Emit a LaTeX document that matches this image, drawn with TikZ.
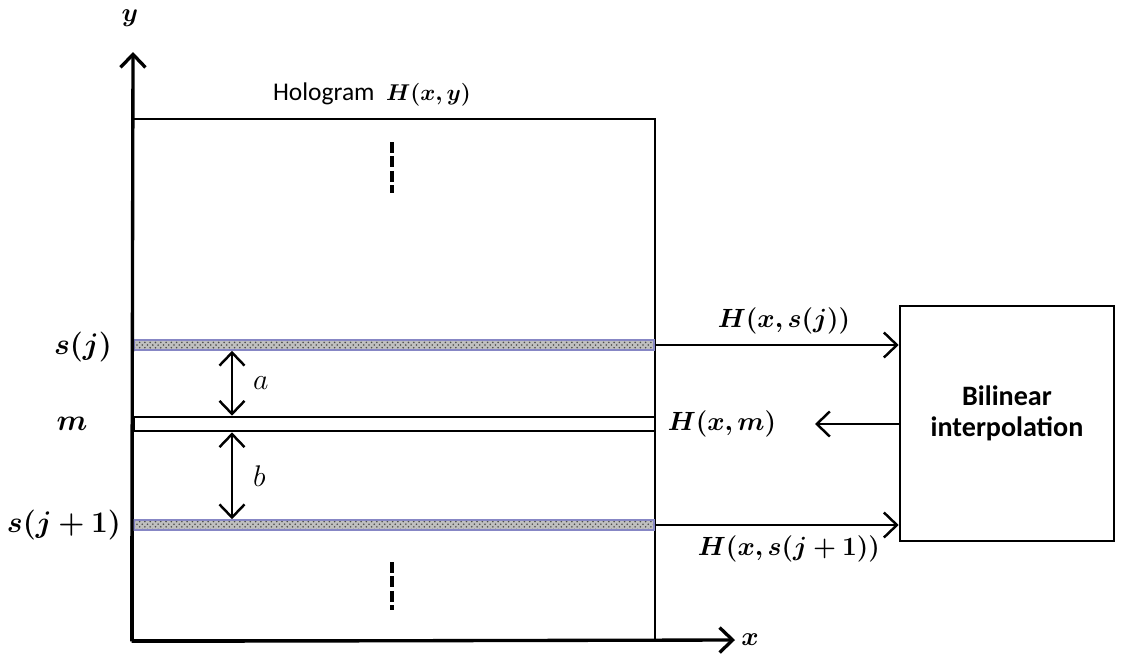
\documentclass[tikz,border=0pt]{standalone}
\usepackage{fix-cm}
\usepackage{fontspec}
\setmainfont{Carlito}
\usepackage{bm}
\usetikzlibrary{arrows.meta, positioning, fit, calc, patterns}

\begin{document}
\begin{tikzpicture}[
    x=0.02cm, y=-0.02cm,
    frame/.style={draw, line width=1.5pt, inner sep=0pt},
    strip/.style={draw=blue!35!gray!70, line width=0.9pt, inner sep=0pt, preaction={fill=gray!50}, pattern=crosshatch dots, pattern color=gray!60!black},
    axis/.style={draw, line width=1.9pt, -{Straight Barb[length=2.6mm, width=5mm]}},
    line/.style={draw, line width=1.4pt, -{Straight Barb[length=2.6mm, width=5mm]}},
    gap/.style={draw, line width=1.4pt, {Straight Barb[length=2.6mm, width=5mm]}-{Straight Barb[length=2.6mm, width=5mm]}},
    dots/.style={draw, line width=2pt, dash pattern=on 6.2pt off 2pt},
    lbl/.style={font=\fontsize{14.5}{16}\selectfont},
    rowlbl/.style={font=\fontsize{17}{19}\selectfont},
    arrlbl/.style={font=\fontsize{15}{17}\selectfont}
]
\useasboundingbox (0,0) rectangle (1146,656);

% hologram and rows
\node [frame, fit={(133,119) (655,640)}] (holo) {};
\node [strip, fit={(134,340) (654,350)}] (sj) {};
\node [frame, fill=white, fit={(134,417) (655,431)}] (m) {};
\node [strip, fit={(134,520) (654,530)}] (sj1) {};
\node [frame, fit={(900,306) (1114,541)}, font=\fontsize{16}{17.5}\selectfont\bfseries, align=center] (bil) {Bilinear\\interpolation};

% axes
\coordinate (ytip) at (133,52);
\coordinate (xtip) at (735,640);
\path [axis] (holo.south west) -- (ytip);
\path [axis] (holo.south west) -- (xtip);
\node [arrlbl] (ylab) at (130,18) {$\bm{y}$};
\node [arrlbl] (xlab) at (750,640) {$\bm{x}$};
\node [lbl] (title) at (372,95) {Hologram \ {\fontsize{13}{15}\selectfont$\bm{H(x,y)}$}};

% row labels
\node [rowlbl] (sjlab) at (83,347) {$\bm{s(j)}$};
\node [rowlbl] (mlab) at (72,424) {$\bm{m}$};
\node [rowlbl] (sj1lab) at (64,525) {$\bm{s(j+1)}$};

% dots
\path [dots] (392,142) -- (392,193);
\path [dots] (392,562) -- (392,610);

% distances
\coordinate (ax) at (232,0);
\path [gap] (sj.south -| ax) -- node[rowlbl, right=8pt] {$a$} (m.north -| ax);
\path [gap] (m.south -| ax) -- node[rowlbl, right=8pt] {$b$} (sj1.north -| ax);

% to and from interpolation
\coordinate (mtip) at (815,424);
\path [line] (sj.east) -- node[arrlbl, above=2pt, pos=0.53] {$\bm{H(x,s(j))}$} (sj.east -| bil.west);
\path [line] (m.east -| bil.west) -- (mtip);
\node [arrlbl] (hm) at (722,424) {$\bm{H(x,m)}$};
\path [line] (sj1.east) -- node[arrlbl, below=2pt, pos=0.55] {$\bm{H(x,s(j+1))}$} (sj1.east -| bil.west);
\end{tikzpicture}
\end{document}
